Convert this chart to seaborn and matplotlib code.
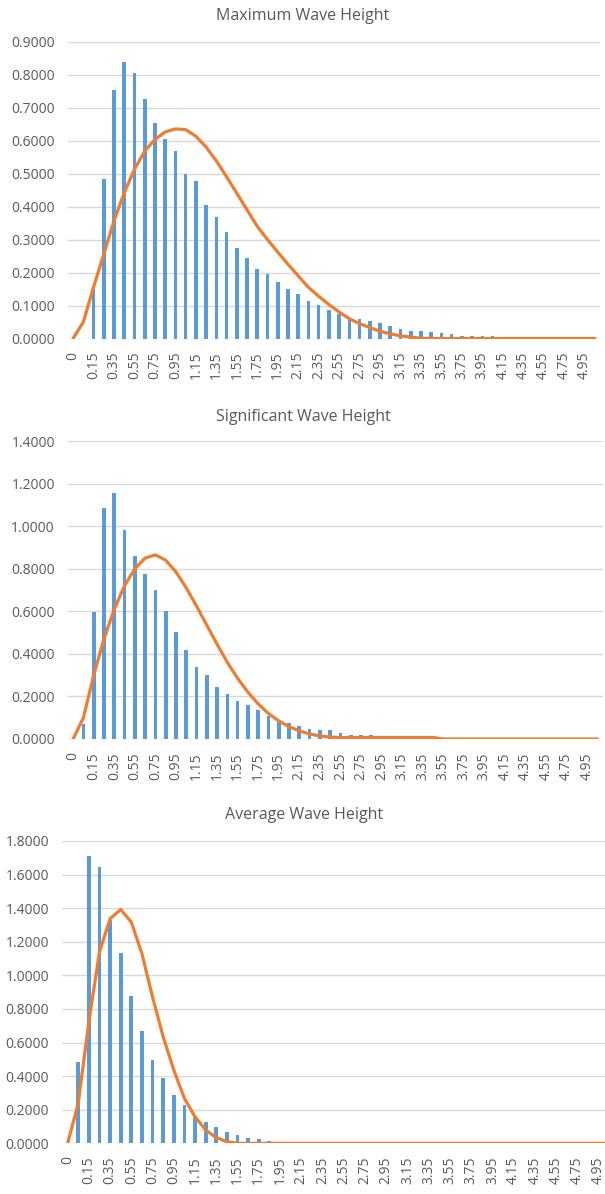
import numpy as np
import pandas as pd
import matplotlib
matplotlib.use("Agg")
import matplotlib.pyplot as plt
import seaborn as sns

# Wave-height bins (m); every other bin is labelled on the axis
categories = [
    "0", "0.05", "0.15", "0.25", "0.35", "0.45", "0.55", "0.65", "0.75", "0.85",
    "0.95", "1.05", "1.15", "1.25", "1.35", "1.45", "1.55", "1.65", "1.75", "1.85",
    "1.95", "2.05", "2.15", "2.25", "2.35", "2.45", "2.55", "2.65", "2.75", "2.85",
    "2.95", "3.05", "3.15", "3.25", "3.35", "3.45", "3.55", "3.65", "3.75", "3.85",
    "3.95", "4.05", "4.15", "4.25", "4.35", "4.45", "4.55", "4.65", "4.75", "4.85",
    "4.95", "5.05",
]

# Maximum wave height: observed density (bars) and fitted distribution (line)
max_hist = [
    0.0, 0.0, 0.150, 0.483, 0.753, 0.837, 0.806, 0.726, 0.653, 0.605,
    0.568, 0.500, 0.478, 0.405, 0.369, 0.324, 0.274, 0.243, 0.212, 0.194,
    0.170, 0.151, 0.135, 0.115, 0.101, 0.087, 0.074, 0.058, 0.059, 0.052,
    0.046, 0.038, 0.028, 0.023, 0.023, 0.019, 0.017, 0.013, 0.009, 0.009,
    0.009, 0.009, 0.0, 0.0, 0.0, 0.0, 0.0, 0.0, 0.0, 0.0,
    0.0, 0.0,
]
max_fit = [
    0.0, 0.050, 0.156, 0.256, 0.357, 0.442, 0.513, 0.568, 0.603, 0.626,
    0.635, 0.633, 0.613, 0.580, 0.538, 0.490, 0.440, 0.390, 0.340, 0.300,
    0.262, 0.225, 0.190, 0.155, 0.128, 0.103, 0.080, 0.060, 0.045, 0.033,
    0.022, 0.014, 0.008, 0.004, 0.001, 0.0, 0.0, 0.0, 0.0, 0.0,
    0.0, 0.0, 0.0, 0.0, 0.0, 0.0, 0.0, 0.0, 0.0, 0.0,
    0.0, 0.0,
]

# Significant wave height
sig_hist = [
    0.0, 0.069, 0.598, 1.087, 1.157, 0.982, 0.859, 0.777, 0.698, 0.600,
    0.501, 0.417, 0.340, 0.303, 0.243, 0.213, 0.179, 0.159, 0.137, 0.108,
    0.078, 0.074, 0.060, 0.046, 0.040, 0.040, 0.026, 0.021, 0.019, 0.019,
    0.0, 0.0, 0.0, 0.0, 0.0, 0.0, 0.0, 0.0, 0.0, 0.0,
    0.0, 0.0, 0.0, 0.0, 0.0, 0.0, 0.0, 0.0, 0.0, 0.0,
    0.0, 0.0,
]
sig_fit = [
    0.0, 0.100, 0.300, 0.470, 0.610, 0.720, 0.800, 0.850, 0.865, 0.840,
    0.785, 0.710, 0.625, 0.535, 0.445, 0.360, 0.285, 0.220, 0.165, 0.120,
    0.085, 0.058, 0.038, 0.024, 0.014, 0.009, 0.007, 0.007, 0.007, 0.007,
    0.007, 0.007, 0.007, 0.007, 0.007, 0.007, 0.0, 0.0, 0.0, 0.0,
    0.0, 0.0, 0.0, 0.0, 0.0, 0.0, 0.0, 0.0, 0.0, 0.0,
    0.0, 0.0,
]

# Average wave height
avg_hist = [
    0.0, 0.485, 1.709, 1.648, 1.327, 1.133, 0.875, 0.668, 0.496, 0.390,
    0.288, 0.228, 0.160, 0.125, 0.095, 0.065, 0.048, 0.033, 0.028, 0.015,
    0.0, 0.0, 0.0, 0.0, 0.0, 0.0, 0.0, 0.0, 0.0, 0.0,
    0.0, 0.0, 0.0, 0.0, 0.0, 0.0, 0.0, 0.0, 0.0, 0.0,
    0.0, 0.0, 0.0, 0.0, 0.0, 0.0, 0.0, 0.0, 0.0, 0.0,
    0.0, 0.0,
]
avg_fit = [
    0.0, 0.238, 0.723, 1.139, 1.337, 1.392, 1.317, 1.129, 0.871, 0.634,
    0.436, 0.267, 0.158, 0.079, 0.034, 0.010, 0.0, 0.0, 0.0, 0.0,
    0.0, 0.0, 0.0, 0.0, 0.0, 0.0, 0.0, 0.0, 0.0, 0.0,
    0.0, 0.0, 0.0, 0.0, 0.0, 0.0, 0.0, 0.0, 0.0, 0.0,
    0.0, 0.0, 0.0, 0.0, 0.0, 0.0, 0.0, 0.0, 0.0, 0.0,
    0.0, 0.0,
]

titles = ["Maximum Wave Height", "Significant Wave Height", "Average Wave Height"]
hists = [max_hist, sig_hist, avg_hist]
fits = [max_fit, sig_fit, avg_fit]
y_max = [0.9, 1.4, 1.8]
y_step = [0.1, 0.2, 0.2]

# ---- styling / layout (pixel units) ----
W, H = 605, 1194
BAR_COLOR = "#5B9BD5"
LINE_COLOR = "#ED7D31"
TEXT_COLOR = "#595959"
GRID_COLOR = "#D9D9D9"

# plot boxes: left, top, right, bottom
boxes = [(68.0, 41.5, 600.0, 338.5),
         (68.0, 441.0, 602.6, 739.0),
         (62.3, 841.0, 614.5, 1143.3)]
title_pos = [(303, 16), (303, 417), (304, 815)]

sns.set_theme(style="white")
plt.rcParams["font.family"] = ["Open Sans", "DejaVu Sans"]

fig = plt.figure(figsize=(W / 100, H / 100), dpi=100)
fig.patch.set_facecolor("white")

n = len(categories)
for k in range(3):
    l, t, r, b = boxes[k]
    ax = fig.add_axes([l / W, 1 - b / H, (r - l) / W, (b - t) / H])
    df = pd.DataFrame({"bin": categories, "density": hists[k],
                       "fit": fits[k], "pos": np.arange(n)})

    sns.barplot(data=df, x="bin", y="density", order=categories,
                color=BAR_COLOR, saturation=1, width=0.36, linewidth=0,
                ax=ax)
    sns.lineplot(data=df, x="pos", y="fit", color=LINE_COLOR, linewidth=2.3,
                 sort=False, errorbar=None, ax=ax)
    for line in ax.lines:
        line.set_solid_joinstyle("round")
        line.set_solid_capstyle("round")

    ax.set_xlim(-0.5, n - 0.5)
    ax.set_ylim(0, y_max[k])
    yt = np.round(np.arange(0, y_max[k] + 1e-9, y_step[k]), 4)
    ax.set_yticks(yt)
    ax.set_yticklabels([f"{v:.4f}" for v in yt])
    ax.set_xticks(np.arange(0, n, 2))
    ax.set_xticklabels(categories[0::2], rotation=90)

    ax.tick_params(axis="y", length=0, pad=9.5, labelsize=10,
                   labelcolor=TEXT_COLOR)
    ax.tick_params(axis="x", length=0, pad=9.5, labelsize=10,
                   labelcolor=TEXT_COLOR)
    ax.set_xlabel("")
    ax.set_ylabel("")
    ax.yaxis.grid(True, color=GRID_COLOR, linewidth=1.0)
    ax.xaxis.grid(False)
    ax.set_axisbelow(True)
    for s in ax.spines.values():
        s.set_visible(False)
    ax.set_facecolor("none")
    leg = ax.get_legend()
    if leg is not None:
        leg.remove()

    tx, ty = title_pos[k]
    fig.text(tx / W, 1 - ty / H, titles[k], ha="center", va="center",
             fontsize=11.5, color=TEXT_COLOR)

fig.savefig("out.png", dpi=100, facecolor="white")
